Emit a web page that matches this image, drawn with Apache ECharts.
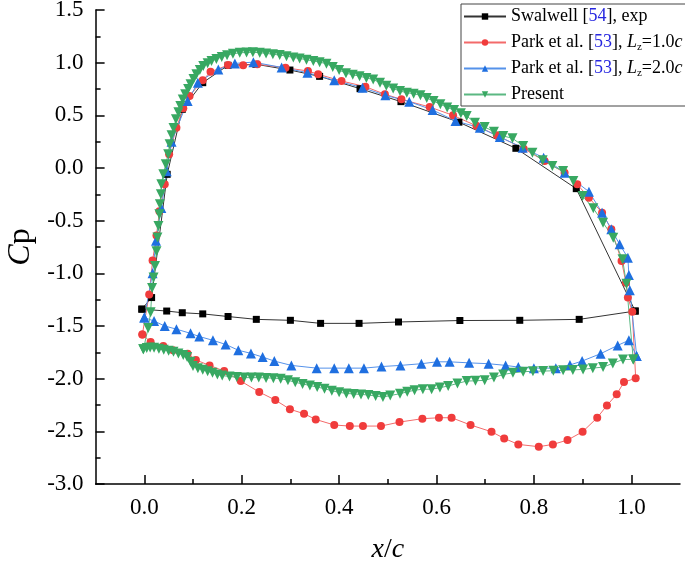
<!DOCTYPE html>
<html><head><meta charset="utf-8">
<script src="https://cdn.jsdelivr.net/npm/echarts@6/dist/echarts.min.js"></script>
<style>html,body{margin:0;padding:0;background:#fff}#c{width:685px;height:562px}</style>
</head><body><div id="c"></div>
<script>
// ---- data (x/c, Cp) ----
const swalwellLower = [[-0.005,-1.34],[0.046,-1.358],[0.078,-1.374],[0.12,-1.385],[0.172,-1.41],[0.23,-1.437],[0.30,-1.446],[0.362,-1.475],[0.441,-1.475],[0.522,-1.462],[0.648,-1.448],[0.771,-1.446],[0.893,-1.437],[1.008,-1.358]];
const swalwellUpper = [[-0.005,-1.34],[0.015,-1.23],[0.047,-0.06],[0.078,0.557],[0.12,0.81],[0.172,0.975],[0.229,0.985],[0.299,0.93],[0.36,0.87],[0.443,0.753],[0.527,0.63],[0.646,0.435],[0.763,0.187],[0.887,-0.196],[1.008,-1.358]];

const park1Lower = [[-0.004,-1.58],[0.013,-1.652],[0.039,-1.69],[0.059,-1.73],[0.089,-1.763],[0.106,-1.823],[0.134,-1.874],[0.164,-1.928],[0.198,-2.023],[0.236,-2.127],[0.269,-2.203],[0.299,-2.29],[0.328,-2.333],[0.352,-2.387],[0.39,-2.44],[0.422,-2.45],[0.449,-2.45],[0.486,-2.45],[0.524,-2.412],[0.571,-2.38],[0.605,-2.371],[0.631,-2.371],[0.67,-2.44],[0.713,-2.504],[0.739,-2.567],[0.768,-2.624],[0.81,-2.646],[0.839,-2.624],[0.869,-2.583],[0.90,-2.504],[0.93,-2.371],[0.95,-2.254],[0.97,-2.149],[0.985,-2.032],[1.009,-1.997]];
const park1Upper = [[-0.004,-1.58],[0.01,-1.2],[0.017,-0.877],[0.025,-0.64],[0.031,-0.41],[0.042,-0.155],[0.051,0.13],[0.066,0.383],[0.08,0.567],[0.093,0.684],[0.12,0.833],[0.136,0.913],[0.172,0.977],[0.203,0.975],[0.232,0.985],[0.29,0.952],[0.336,0.921],[0.357,0.89],[0.405,0.826],[0.454,0.772],[0.494,0.70],[0.528,0.652],[0.586,0.579],[0.634,0.50],[0.682,0.40],[0.724,0.31],[0.779,0.183],[0.822,0.066],[0.863,-0.045],[0.889,-0.155],[0.913,-0.282],[0.94,-0.424],[0.959,-0.582],[0.98,-0.883],[0.989,-1.089],[0.993,-1.23],[1.002,-1.364]];

const park2Lower = [[0.0,-1.42],[0.02,-1.453],[0.042,-1.50],[0.066,-1.53],[0.095,-1.57],[0.113,-1.60],[0.141,-1.636],[0.167,-1.675],[0.193,-1.73],[0.219,-1.76],[0.243,-1.795],[0.267,-1.833],[0.302,-1.874],[0.354,-1.90],[0.39,-1.90],[0.42,-1.90],[0.451,-1.90],[0.487,-1.885],[0.526,-1.874],[0.569,-1.858],[0.601,-1.84],[0.627,-1.84],[0.667,-1.85],[0.707,-1.858],[0.742,-1.874],[0.768,-1.89],[0.80,-1.90],[0.845,-1.90],[0.874,-1.87],[0.899,-1.833],[0.937,-1.763],[0.972,-1.684],[0.995,-1.636],[1.011,-1.785]];
const park2Upper = [[0.0,-1.42],[0.017,-1.0],[0.024,-0.69],[0.035,-0.38],[0.046,-0.03],[0.056,0.25],[0.089,0.636],[0.11,0.81],[0.152,0.935],[0.186,0.993],[0.224,1.005],[0.282,0.955],[0.335,0.905],[0.39,0.833],[0.448,0.763],[0.495,0.69],[0.544,0.63],[0.592,0.551],[0.639,0.446],[0.689,0.383],[0.73,0.294],[0.777,0.193],[0.82,0.098],[0.863,-0.045],[0.913,-0.225],[0.94,-0.424],[0.959,-0.582],[0.976,-0.725],[0.993,-0.852],[0.995,-1.016],[0.997,-1.16],[1.011,-1.785]];

const presentLower = [[-0.002,-1.72],[0.005,-1.71],[0.012,-1.705],[0.02,-1.707],[0.03,-1.715],[0.04,-1.725],[0.05,-1.735],[0.06,-1.745],[0.07,-1.76],[0.08,-1.775],[0.088,-1.795],[0.095,-1.84],[0.1,-1.88],[0.11,-1.9],[0.12,-1.915],[0.13,-1.93],[0.14,-1.945],[0.15,-1.96],[0.16,-1.97],[0.175,-1.98],[0.19,-1.985],[0.205,-1.99],[0.22,-1.99],[0.235,-1.99],[0.25,-1.993],[0.265,-1.995],[0.28,-2.0],[0.295,-2.015],[0.31,-2.035],[0.325,-2.05],[0.34,-2.065],[0.355,-2.08],[0.37,-2.095],[0.385,-2.115],[0.4,-2.13],[0.415,-2.14],[0.43,-2.145],[0.445,-2.15],[0.46,-2.155],[0.475,-2.165],[0.49,-2.175],[0.505,-2.16],[0.525,-2.143],[0.54,-2.125],[0.555,-2.11],[0.572,-2.1],[0.59,-2.1],[0.607,-2.085],[0.624,-2.07],[0.643,-2.045],[0.662,-2.023],[0.68,-2.02],[0.699,-2.016],[0.718,-1.99],[0.737,-1.96],[0.757,-1.945],[0.778,-1.934],[0.798,-1.93],[0.819,-1.928],[0.84,-1.925],[0.86,-1.921],[0.88,-1.917],[0.901,-1.912],[0.921,-1.9],[0.942,-1.89],[0.962,-1.855],[0.983,-1.817],[1.004,-1.817]];
const presentUpper = [[-0.002,-1.72],[0.008,-1.52],[0.013,-1.37],[0.016,-1.14],[0.019,-1.04],[0.022,-0.93],[0.025,-0.79],[0.027,-0.66],[0.029,-0.55],[0.031,-0.44],[0.032,-0.345],[0.034,-0.25],[0.035,-0.155],[0.039,-0.06],[0.044,0.035],[0.049,0.13],[0.052,0.225],[0.056,0.31],[0.06,0.38],[0.065,0.462],[0.07,0.53],[0.074,0.589],[0.079,0.65],[0.084,0.70],[0.09,0.75],[0.095,0.795],[0.101,0.845],[0.107,0.89],[0.114,0.93],[0.121,0.969],[0.13,0.995],[0.138,1.016],[0.148,1.035],[0.159,1.054],[0.17,1.07],[0.182,1.085],[0.196,1.093],[0.21,1.097],[0.223,1.098],[0.237,1.095],[0.25,1.088],[0.264,1.08],[0.278,1.072],[0.292,1.062],[0.306,1.05],[0.319,1.04],[0.333,1.028],[0.347,1.016],[0.36,1.005],[0.374,0.99],[0.387,0.96],[0.4,0.93],[0.414,0.9],[0.428,0.885],[0.442,0.872],[0.456,0.855],[0.47,0.84],[0.484,0.81],[0.497,0.78],[0.511,0.755],[0.525,0.73],[0.539,0.715],[0.553,0.705],[0.567,0.69],[0.58,0.665],[0.594,0.635],[0.608,0.605],[0.622,0.575],[0.636,0.55],[0.65,0.52],[0.662,0.494],[0.679,0.43],[0.699,0.389],[0.718,0.345],[0.737,0.304],[0.756,0.282],[0.778,0.209],[0.797,0.145],[0.818,0.073],[0.838,0.019],[0.86,-0.028],[0.881,-0.123],[0.90,-0.266],[0.922,-0.383],[0.942,-0.519],[0.963,-0.662],[0.982,-0.867],[0.99,-1.1],[1.004,-1.817]];

const xMajorTicks = [0.0,0.2,0.4,0.6,0.8,1.0];
const xMinorTicks = [0.1,0.3,0.5,0.7,0.9];
const seriesNames = ['Swalwell','Park1','Park2','Present'];
const legendLabels = {
  Swalwell: '{t|Swalwell [}{b|54}{t|], exp}',
  Park1: '{t|Park et al. [}{b|53}{t|], }{i|L}{s|z}{t|=1.0}{i|c}',
  Park2: '{t|Park et al. [}{b|53}{t|], }{i|L}{s|z}{t|=2.0}{i|c}',
  Present: '{t|Present}'
};

const loop = (lower, upper) => lower.concat(upper.slice().reverse());
const serif = 'Liberation Serif, Times New Roman, serif';
const chart = echarts.init(document.getElementById('c'), null, {renderer:'canvas'});
const invTri = 'path://M0,0 L10,0 L5,9 Z';

function mk(name, data, color, lineColor, symbol, size) {
  return {
    name, type:'line', data, symbol, symbolSize:size,
    itemStyle:{color}, lineStyle:{color:lineColor, width:1},
    emphasis:{disabled:true}, animation:false, z: 2
  };
}

chart.setOption({
  animation:false,
  grid:{left:95.6, right:5, top:10, bottom:78, containLabel:false, outerBoundsMode:'none'},
  legend:{
    orient:'vertical', left:461, top:4, width:222,
    padding:[2,6,1,2], itemGap:5, itemWidth:42, itemHeight:8,
    backgroundColor:'#fff', borderColor:'#444', borderWidth:1,
    data: seriesNames,
    formatter: n => legendLabels[n],
    textStyle:{
      fontFamily:serif, fontSize:18, color:'#000', lineHeight:21,
      rich:{
        t:{fontFamily:serif, fontSize:18, color:'#000'},
        b:{fontFamily:serif, fontSize:18, color:'#2727e0'},
        i:{fontFamily:serif, fontSize:18, fontStyle:'italic', color:'#000'},
        s:{fontFamily:serif, fontSize:11, color:'#000', padding:[9,0,0,0]}
      }
    }
  },
  xAxis:[{
    type:'value', min:-0.1, max:1.1,
    name:'{i|x}/{i|c}', nameLocation:'middle', nameGap:52,
    nameTextStyle:{fontFamily:serif, fontSize:28, color:'#000',
      rich:{i:{fontFamily:serif, fontSize:28, fontStyle:'italic', color:'#000'}}},
    axisLine:{show:true, onZero:false, lineStyle:{color:'#000', width:1.5}},
    axisTick:{show:true, inside:true, length:9, customValues:xMajorTicks, lineStyle:{color:'#000', width:1.5}},
    axisLabel:{customValues:xMajorTicks, formatter:v=>v.toFixed(1), fontFamily:serif, fontSize:23, color:'#000', margin:12},
    splitLine:{show:false}
  },{
    type:'value', min:-0.1, max:1.1, position:'bottom',
    axisLine:{show:false, onZero:false},
    axisTick:{show:true, inside:true, length:5, customValues:xMinorTicks, lineStyle:{color:'#000', width:1.5}},
    axisLabel:{show:false}, splitLine:{show:false}
  }],
  yAxis:{
    type:'value', min:-3.0, max:1.5, interval:0.5,
    name:'{i|C}p', nameLocation:'middle', nameGap:58, nameRotate:90,
    nameTextStyle:{fontFamily:serif, fontSize:32, color:'#000',
      rich:{i:{fontFamily:serif, fontSize:32, fontStyle:'italic', color:'#000'}}},
    axisLine:{show:true, onZero:false, lineStyle:{color:'#000', width:1.5}},
    axisTick:{show:true, inside:true, length:9, lineStyle:{color:'#000', width:1.5}},
    minorTick:{show:true, splitNumber:2, length:5, lineStyle:{color:'#000', width:1.5}},
    axisLabel:{formatter:v=>v.toFixed(1), fontFamily:serif, fontSize:23, color:'#000', margin:12},
    splitLine:{show:false}, minorSplitLine:{show:false}
  },
  series:[
    mk('Swalwell', loop(swalwellLower, swalwellUpper), '#000000', '#333333', 'rect', 7),
    mk('Park1', loop(park1Lower, park1Upper), '#f03c3c', '#f36a6a', 'circle', 8),
    mk('Park2', loop(park2Lower, park2Upper), '#1f6fe0', '#5592ea', 'triangle', 10),
    mk('Present', loop(presentLower, presentUpper), '#38a862', '#5bb882', invTri, 10)
  ]
});
</script></body></html>
